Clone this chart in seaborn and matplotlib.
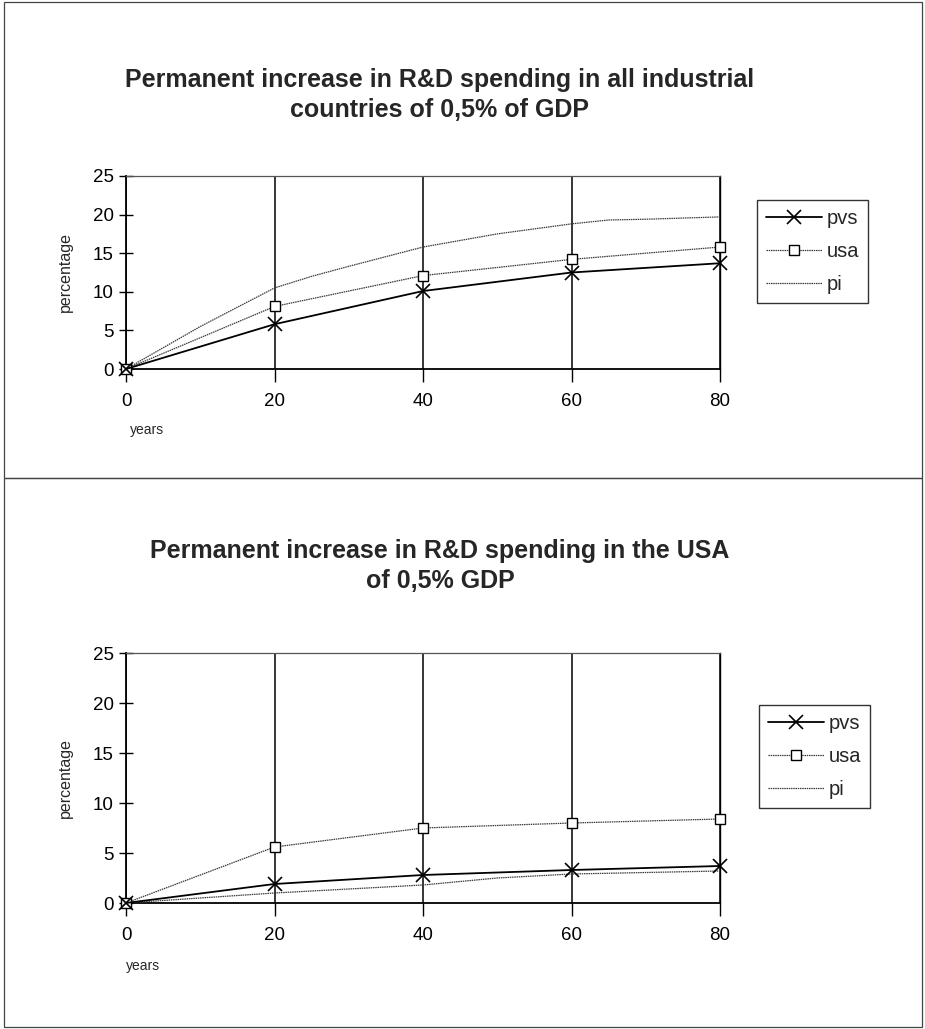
import matplotlib
matplotlib.use("Agg")
import matplotlib.pyplot as plt
import seaborn as sns
import pandas as pd
from matplotlib.patches import Rectangle

# ---- data -------------------------------------------------------------
years_marked = [0, 20, 40, 60, 80]

# all industrial countries raise R&D by 0.5% of GDP
all_pvs = [0, 5.8, 10.1, 12.5, 13.7]
all_usa = [0, 8.1, 12.1, 14.2, 15.8]
all_pi_years = [0, 10, 20, 25, 30, 40, 50, 60, 65, 70, 80]
all_pi = [0, 5.5, 10.5, 12.0, 13.3, 15.8, 17.5, 18.8, 19.3, 19.4, 19.7]

# only the USA raises R&D by 0.5% of GDP
usa_pvs = [0, 1.9, 2.8, 3.3, 3.7]
usa_usa = [0, 5.6, 7.5, 8.0, 8.4]
usa_pi_years = [0, 20, 40, 50, 60, 80]
usa_pi = [0, 1.0, 1.8, 2.5, 2.9, 3.2]

titles = [
    "Permanent increase in R&D spending in all industrial\ncountries of 0,5% of GDP",
    "Permanent increase in R&D spending in the USA\nof 0,5% GDP",
]
series_names = ["pvs", "usa", "pi"]
x_ticks = [0, 20, 40, 60, 80]
y_ticks = [0, 5, 10, 15, 20, 25]

# ---- styling ----------------------------------------------------------
sns.set_theme(style="white")
plt.rcParams["font.family"] = ["Liberation Sans", "DejaVu Sans"]

W, H = 925, 1029
fig = plt.figure(figsize=(W / 100, H / 100), dpi=100)


def fx(px):
    return px / W


def fy(py):
    return 1 - py / H


def draw_panel(ax, pvs, usa, pi_x, pi_y, legend_xy, years_xy):
    df_pvs = pd.DataFrame({"years": years_marked, "value": pvs})
    df_usa = pd.DataFrame({"years": years_marked, "value": usa})
    df_pi = pd.DataFrame({"years": pi_x, "value": pi_y})

    sns.lineplot(data=df_pi, x="years", y="value", ax=ax, color="#3a3a3a",
                 linewidth=0.9, linestyle=(0, (1.2, 0.6)), label=series_names[2],
                 zorder=3)
    sns.lineplot(data=df_usa, x="years", y="value", ax=ax, color="#3a3a3a",
                 linewidth=0.9, linestyle=(0, (1.2, 0.6)), marker="s",
                 markersize=7.5, markerfacecolor="white", markeredgecolor="black",
                 markeredgewidth=1.0, label=series_names[1], zorder=4)
    sns.lineplot(data=df_pvs, x="years", y="value", ax=ax, color="black",
                 linewidth=1.3, marker="x", markersize=9.5, markeredgewidth=1.2,
                 markeredgecolor="black", label=series_names[0], zorder=5)
    for ln in ax.lines:
        ln.set_clip_on(False)

    ax.set_xlim(0, 80)
    ax.set_ylim(0, 25)
    ax.set_xticks(x_ticks)
    ax.set_yticks(y_ticks)
    ax.tick_params(axis="both", labelsize=13.5, colors="black", length=8,
                   width=1.0, left=True, bottom=True)
    ax.tick_params(axis="y", direction="inout", length=10, pad=4)
    ax.tick_params(axis="x", direction="out", length=9, pad=8)

    ax.grid(axis="x", color="black", linewidth=1.1)
    ax.grid(axis="y", visible=False)
    ax.set_axisbelow(True)

    for side in ["left", "bottom"]:
        ax.spines[side].set_color("black")
        ax.spines[side].set_linewidth(1.3)
    ax.spines["right"].set_color("black")
    ax.spines["right"].set_linewidth(1.0)
    ax.spines["top"].set_color("#555555")
    ax.spines["top"].set_linewidth(0.9)
    ax.spines["top"].set_linestyle((0, (2, 1)))

    ax.set_ylabel("percentage", fontsize=11.5, labelpad=14)
    ax.set_xlabel("")
    fig.text(fx(years_xy[0]), fy(years_xy[1]), "years", fontsize=10,
             ha="left", va="center")

    handles, labels = ax.get_legend_handles_labels()
    order = [labels.index(n) for n in series_names]
    leg = ax.legend([handles[i] for i in order], [labels[i] for i in order],
                    loc="upper left",
                    bbox_to_anchor=(fx(legend_xy[0]), fy(legend_xy[1])),
                    bbox_transform=fig.transFigure, frameon=True, fancybox=False,
                    edgecolor="black", fontsize=14.5, handlelength=2.8,
                    handletextpad=0.2, borderpad=0.45, labelspacing=0.7,
                    borderaxespad=0)
    leg.get_frame().set_linewidth(1.0)


# top panel axes
ax1 = fig.add_axes([fx(126), fy(369), fx(720) - fx(126), fy(176) - fy(369)])
draw_panel(ax1, all_pvs, all_usa, all_pi_years, all_pi,
           legend_xy=(757, 200), years_xy=(130, 430))

# bottom panel axes
ax2 = fig.add_axes([fx(126), fy(903), fx(720) - fx(126), fy(653) - fy(903)])
draw_panel(ax2, usa_pvs, usa_usa, usa_pi_years, usa_pi,
           legend_xy=(759, 705), years_xy=(126, 966))

# panel titles
fig.text(fx(440), fy(95), titles[0], ha="center", va="center", fontsize=18,
         fontweight="bold", linespacing=1.3)
fig.text(fx(440), fy(566), titles[1], ha="center", va="center", fontsize=18,
         fontweight="bold", linespacing=1.3)

# panel frames
for (y0, y1) in [(2, 478), (478, 1027)]:
    fig.add_artist(Rectangle((fx(4), fy(y1)), fx(922) - fx(4), fy(y0) - fy(y1),
                             transform=fig.transFigure, fill=False,
                             edgecolor="#444444", linewidth=0.9))

fig.savefig("out.png", dpi=100, facecolor="white")
